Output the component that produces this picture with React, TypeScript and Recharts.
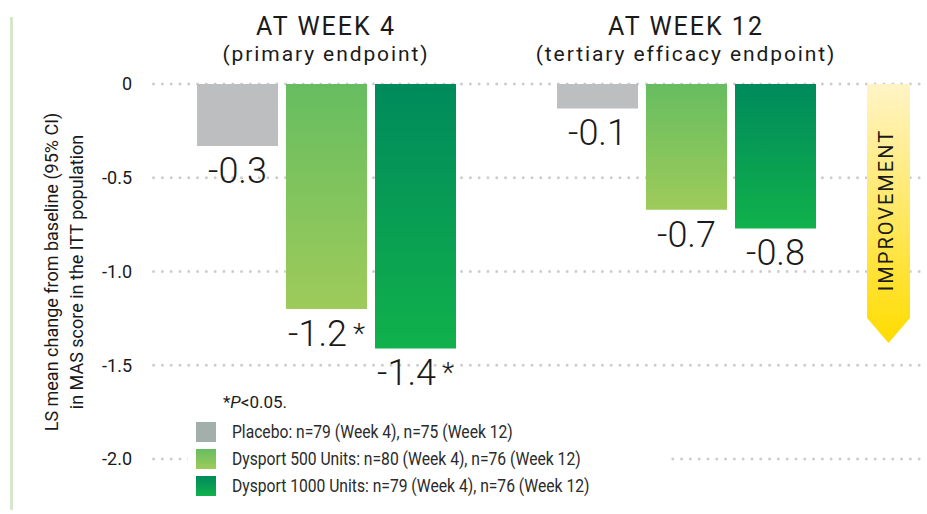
import React from "react";
import { BarChart, Bar, XAxis, YAxis, CartesianGrid, LabelList, Legend } from "recharts";

const categories = ["AT WEEK 4", "AT WEEK 12"];
const subtitles = ["(primary endpoint)", "(tertiary efficacy endpoint)"];
const placeboValues = [-0.33, -0.13];
const dysport500Values = [-1.2, -0.67];
const dysport1000Values = [-1.41, -0.77];
const placeboLabels = ["-0.3", "-0.1"];
const dysport500Labels = ["-1.2*", "-0.7"];
const dysport1000Labels = ["-1.4*", "-0.8"];
const yTicks = [0, -0.5, -1, -1.5, -2];
const yTickLabels = ["0", "-0.5", "-1.0", "-1.5", "-2.0"];
const seriesNames = [
  "Placebo: n=79 (Week 4), n=75 (Week 12)",
  "Dysport 500 Units: n=80 (Week 4), n=76 (Week 12)",
  "Dysport 1000 Units: n=79 (Week 4), n=76 (Week 12)",
];
const yAxisLabelLines = ["LS mean change from baseline (95% CI)", "in MAS score in the ITT population"];
const arrowLabel = "IMPROVEMENT";

const data = categories.map((c, i) => ({
  name: c,
  sub: subtitles[i],
  placebo: placeboValues[i],
  d500: dysport500Values[i],
  d1000: dysport1000Values[i],
  placeboLabel: placeboLabels[i],
  d500Label: dysport500Labels[i],
  d1000Label: dysport1000Labels[i],
}));

const FONT = "Roboto, 'Noto Sans', sans-serif";
const TEXT = "#1a1a1a";

const TopTick = (props: any) => {
  const { x, payload, index } = props;
  return (
    <g>
      <text x={x} y={35} textAnchor="middle" fontFamily={FONT} fontSize={25} letterSpacing={2} fill={TEXT}>
        {payload.value}
      </text>
      <text x={x} y={61} textAnchor="middle" fontFamily={FONT} fontSize={21} letterSpacing={1.9} fill={TEXT}>
        {subtitles[index]}
      </text>
    </g>
  );
};

const ValueLabel = (props: any) => {
  const { x, y, width, height, value } = props;
  const yy = Number(y);
  const hh = Number(height);
  const bottom = Math.max(yy, yy + hh);
  const str = String(value);
  const star = str.endsWith("*");
  const main = star ? str.slice(0, -1) : str;
  return (
    <text
      x={Number(x) + Number(width) / 2}
      y={bottom + 37}
      textAnchor="middle"
      fontFamily={FONT}
      fontWeight={300}
      fontSize={36}
      fill={TEXT}
    >
      {main}
      {star && (
        <tspan fontSize={28} dx={6} dy={-3}>
          *
        </tspan>
      )}
    </text>
  );
};

const legendFills = ["#a2afaa", "url(#lg500)", "url(#lg1000)"];
const LEG_SCALE = 0.87;

const LegendContent = () => (
  <div style={{ width: 480, height: 115, background: "#fff" }}>
    <svg width={480} height={115}>
      <defs>
        <linearGradient id="lg500" x1="0" y1="0" x2="0" y2="1">
          <stop offset="0%" stopColor="#66bd60" />
          <stop offset="100%" stopColor="#9ecb5a" />
        </linearGradient>
        <linearGradient id="lg1000" x1="0" y1="0" x2="0" y2="1">
          <stop offset="0%" stopColor="#008a5c" />
          <stop offset="100%" stopColor="#10b14b" />
        </linearGradient>
      </defs>
      <text x={35} y={20} fontFamily={FONT} fontSize={17} fill={TEXT}>
        *<tspan fontStyle="italic">P</tspan>&lt;0.05.
      </text>
      {seriesNames.map((n, i) => (
        <g key={n}>
          <rect x={8} y={34 + i * 27} width={20} height={20} fill={legendFills[i]} />
          <text
            x={44 / LEG_SCALE}
            y={50.5 + i * 27}
            transform={`scale(${LEG_SCALE},1)`}
            fontFamily={FONT}
            fontSize={18}
            fill="#2a2a2a"
          >
            {n}
          </text>
        </g>
      ))}
    </svg>
  </div>
);

export default function App() {
  return (
    <div style={{ position: "absolute", left: 0, top: 0, width: 927, height: 514, background: "#fff" }}>
      <BarChart
        width={927}
        height={514}
        data={data}
        margin={{ top: 54, right: 2, bottom: 55, left: 86 }}
        barGap={8}
      >
        <defs>
          <linearGradient id="g500" x1="0" y1="0" x2="0" y2="1">
            <stop offset="0%" stopColor="#66bd60" />
            <stop offset="100%" stopColor="#9ecb5a" />
          </linearGradient>
          <linearGradient id="g1000" x1="0" y1="0" x2="0" y2="1">
            <stop offset="0%" stopColor="#008a5c" />
            <stop offset="100%" stopColor="#10b14b" />
          </linearGradient>
        </defs>
        <CartesianGrid
          vertical={false}
          stroke="#cacaca"
          strokeWidth={2.5}
          strokeDasharray="0 6.3 2.5 0"
        />
        <XAxis
          dataKey="name"
          orientation="top"
          height={30}
          axisLine={false}
          tickLine={false}
          tick={<TopTick />}
          padding={{ left: 0, right: 59 }}
          interval={0}
        />
        <YAxis
          domain={[-2, 0]}
          ticks={yTicks}
          width={60}
          axisLine={false}
          tickLine={false}
          tickMargin={8}
          tickFormatter={(v: number) => yTickLabels[yTicks.indexOf(v)] ?? String(v)}
          tick={{ fontFamily: FONT, fontSize: 18, fill: TEXT }}
        />
        <Legend
          layout="horizontal"
          verticalAlign="middle"
          align="center"
          content={<LegendContent />}
          wrapperStyle={{ left: 188, top: 388, width: 480, height: 115 }}
        />
        <Bar dataKey="placebo" fill="#bdbec0" barSize={81} isAnimationActive={false}>
          <LabelList dataKey="placeboLabel" content={<ValueLabel />} />
        </Bar>
        <Bar dataKey="d500" fill="url(#g500)" barSize={81} isAnimationActive={false}>
          <LabelList dataKey="d500Label" content={<ValueLabel />} />
        </Bar>
        <Bar dataKey="d1000" fill="url(#g1000)" barSize={81} isAnimationActive={false}>
          <LabelList dataKey="d1000Label" content={<ValueLabel />} />
        </Bar>
      </BarChart>
      <svg
        width={927}
        height={514}
        style={{ position: "absolute", left: 0, top: 0, pointerEvents: "none" }}
      >
        <defs>
          <linearGradient id="arrowGrad" x1="0" y1="0" x2="0" y2="1">
            <stop offset="0%" stopColor="#fff4c6" />
            <stop offset="100%" stopColor="#ffdc00" />
          </linearGradient>
        </defs>
        <rect x={10} y={17} width={3} height={493} fill="#d5e8cb" />
        {yAxisLabelLines.map((l, i) => (
          <text
            key={l}
            x={58 + i * 25}
            y={272}
            transform={`rotate(-90 ${58 + i * 25} 272)`}
            textAnchor="middle"
            fontFamily={FONT}
            fontSize={18}
            fill={TEXT}
          >
            {l}
          </text>
        ))}
        <polygon points="867,84 910,84 910,318 888.5,343 867,318" fill="url(#arrowGrad)" />
        <text
          x={893}
          y={210}
          transform="rotate(-90 893 210)"
          textAnchor="middle"
          fontFamily={FONT}
          fontSize={20}
          letterSpacing={2}
          fill={TEXT}
        >
          {arrowLabel}
        </text>
      </svg>
    </div>
  );
}
